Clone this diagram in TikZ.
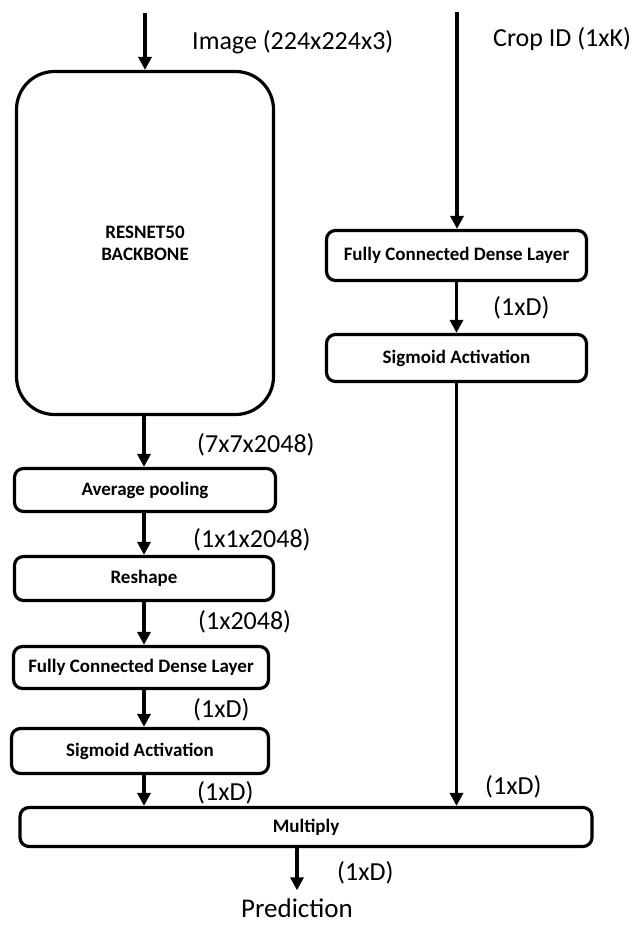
\documentclass[tikz,border=0pt]{standalone}
\usepackage{fontspec}
\setmainfont{Carlito}
\usetikzlibrary{arrows.meta}
\begin{document}
\begin{tikzpicture}[x=1pt,y=-1pt,
  box/.style={draw, line width=3.2pt, rounded corners=9pt, inner sep=0pt,
    font=\fontsize{19}{22}\selectfont\bfseries, align=center},
  lbl/.style={anchor=west, inner sep=0pt, font=\fontsize{26}{30}\selectfont},
  arr/.style={line width=3.2pt, -{Triangle[length=13pt,width=13pt]}}]
\path[use as bounding box] (0,0) rectangle (636,926);

% left column
\node[box, rounded corners=38pt, minimum width=257pt, minimum height=343pt] (big) at (145,243) {RESNET50\\BACKBONE};
\node[box, minimum width=261pt, minimum height=43pt] (avg) at (145,490) {Average pooling};
\node[box, minimum width=259pt, minimum height=44pt] (resh) at (144,578.5) {Reshape};
\node[box, minimum width=255pt, minimum height=42pt] (fcL) at (141,667.5) {Fully Connected Dense Layer};
\node[box, minimum width=257pt, minimum height=45pt] (sigL) at (140,751) {Sigmoid Activation};

% right column
\node[box, minimum width=260pt, minimum height=50pt] (fcR) at (456.5,255.5) {Fully Connected Dense Layer};
\node[box, minimum width=260pt, minimum height=47pt] (sigR) at (456.5,358) {Sigmoid Activation};

% multiply and output
\node[box, minimum width=572pt, minimum height=39pt] (mult) at (306,827) {Multiply};
\node[inner sep=0pt, font=\fontsize{27}{30}\selectfont] (pred) at (297,908) {Prediction};

% labels
\node[lbl] (limg) at (192,42) {Image (224x224x3)};
\node[lbl] (lcrop) at (493,39) {Crop ID (1xK)};
\node[lbl] (l1) at (197,445) {(7x7x2048)};
\node[lbl] (l2) at (193,540) {(1x1x2048)};
\node[lbl] (l3) at (198,622) {(1x2048)};
\node[lbl] (l4) at (193,710) {(1xD)};
\node[lbl] (l5) at (197,793) {(1xD)};
\node[lbl] (l6) at (493,308) {(1xD)};
\node[lbl] (l7) at (485,787) {(1xD)};
\node[lbl] (l8) at (337,873) {(1xD)};

% connectors
\coordinate (inL) at (145,13);
\coordinate (inR) at (457,12);
\coordinate (ax) at (144,0);
\draw[arr] (inL) -- (inL |- big.north);
\draw[arr] (inR) -- (inR |- fcR.north);
\draw[arr] (fcR.south) -- (fcR.south |- sigR.north);
\draw[arr] (sigR.south) -- (sigR.south |- mult.north);
\draw[arr] (big.south -| ax) -- (avg.north -| ax);
\draw[arr] (avg.south -| ax) -- (resh.north -| ax);
\draw[arr] (resh.south -| ax) -- (fcL.north -| ax);
\draw[arr] (fcL.south -| ax) -- (sigL.north -| ax);
\draw[arr] (sigL.south -| ax) -- (mult.north -| ax);
\draw[arr, shorten >=8pt] (mult.south -| pred) -- (pred.north);
\end{tikzpicture}
\end{document}
